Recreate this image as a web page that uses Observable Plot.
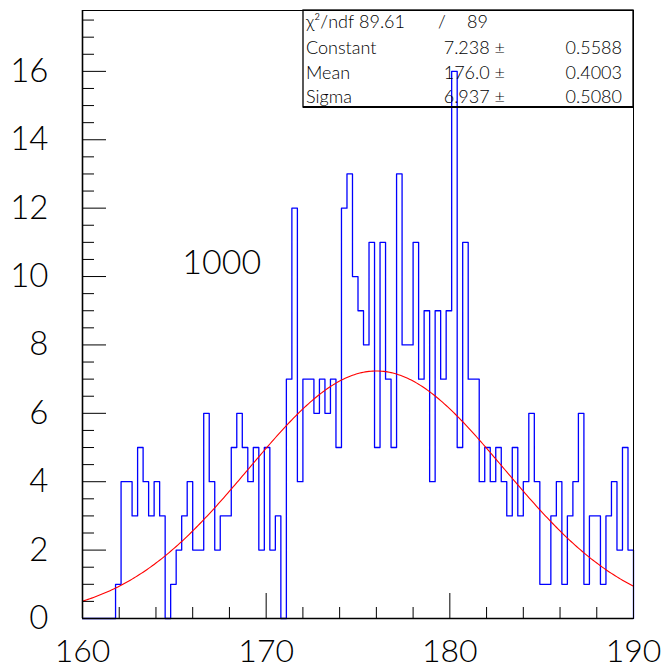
<!DOCTYPE html>
<html>
<head>
<meta charset="utf-8">
<script src="https://cdn.jsdelivr.net/npm/d3@7"></script>
<script src="https://cdn.jsdelivr.net/npm/@observablehq/plot@0.6"></script>
<style>
  html, body { margin: 0; padding: 0; background: #fff; }
  #chart { width: 667px; height: 668px; }
</style>
</head>
<body>
<div id="chart"></div>
<script>
// Histogram: 100 bins of width 0.3 from 160 to 190
const binLow = 160;
const binWidth = 0.3;
const counts = [
  0, 0, 0, 0, 0, 0, 1, 4, 4, 3,
  5, 4, 3, 4, 3, 0, 1, 2, 3, 4,
  2, 2, 6, 4, 2, 3, 3, 5, 6, 5,
  4, 5, 2, 5, 2, 3, 0, 7, 12, 4,
  7, 7, 6, 7, 6, 7, 5, 12, 13, 10,
  9, 8, 11, 5, 11, 7, 5, 13, 8, 8,
  11, 7, 9, 4, 9, 7, 9, 16, 5, 11,
  7, 7, 4, 5, 4, 5, 4, 3, 5, 3,
  4, 6, 4, 1, 1, 3, 4, 1, 3, 4,
  6, 1, 3, 3, 1, 3, 4, 2, 5, 2
];

// Gaussian fit results
const fitConstant = 7.238;
const fitMean = 176.0;
const fitSigma = 6.937;
const chi2 = "89.61";
const ndf = "89";
const statRows = [
  {name: "Constant", value: "7.238", error: "0.5588"},
  {name: "Mean", value: "176.0", error: "0.4003"},
  {name: "Sigma", value: "6.937", error: "0.5080"}
];
const entriesLabel = "1000";

// Axis ticks
const xLabels = [160, 170, 180, 190];
const xMajor = [170, 180];
const xMinor = [162, 164, 166, 168, 172, 174, 176, 178, 182, 184, 186, 188];
const yLabels = [0, 2, 4, 6, 8, 10, 12, 14, 16];
const yMajor = [2, 4, 6, 8, 10, 12, 14, 16];
const yMinor = d3.range(0.5, 17.6, 0.5).filter(v => v % 2 !== 0);

// Outline of the histogram as a step path
const histPts = counts.map((c, i) => ({x: binLow + i * binWidth, y: c}));
histPts.push({x: binLow + counts.length * binWidth, y: counts[counts.length - 1]});
histPts.push({x: binLow + counts.length * binWidth, y: 0});

// Fitted Gaussian evaluated across the axis range
const gauss = x => fitConstant * Math.exp(-0.5 * ((x - fitMean) / fitSigma) ** 2);
const fitPts = d3.range(0, 301).map(i => {
  const x = 160 + i * 0.1;
  return {x, y: gauss(x)};
});

const W = 667, H = 668;
const mL = 82, mR = 34, mT = 10, mB = 50;
const plotW = W - mL - mR, plotH = H - mT - mB;
const font = "Lato, 'Open Sans', 'DejaVu Sans', sans-serif";

const chart = Plot.plot({
  width: W,
  height: H,
  marginLeft: mL,
  marginRight: mR,
  marginTop: mT,
  marginBottom: mB,
  style: {fontFamily: font, background: "#fff", color: "#000"},
  x: {domain: [160, 190], axis: null},
  y: {domain: [0, 17.78]},
  marks: [
    Plot.line(histPts, {x: "x", y: "y", curve: "step-after", stroke: "#0000ff", strokeWidth: 1.3}),
    Plot.line(fitPts, {x: "x", y: "y", stroke: "#ff0000", strokeWidth: 1.1}),
    Plot.tickY(yMinor, {y: d => d, insetRight: plotW - 12, stroke: "#000"}),
    Plot.tickY(yMajor, {y: d => d, insetRight: plotW - 24, stroke: "#000"}),
    Plot.tickX(xMinor, {x: d => d, insetTop: plotH - 11, stroke: "#000"}),
    Plot.tickX(xMajor, {x: d => d, insetTop: plotH - 25, stroke: "#000"}),
    Plot.axisY({ticks: yLabels, tickSize: 0, tickPadding: 34, fontSize: 33, fontWeight: 300, label: null, tickFormat: d => d}),
    Plot.text(xLabels, {x: d => d, frameAnchor: "bottom", dy: 43, lineAnchor: "bottom", text: d => String(d), fontSize: 32, fontWeight: 300, fill: "#000"}),
    Plot.frame({stroke: "#000", strokeWidth: 1}),
    Plot.ruleX([160], {stroke: "#000", strokeWidth: 1.6}),
    Plot.ruleY([0], {stroke: "#000", strokeWidth: 1.6}),
    Plot.text([entriesLabel], {x: 165.43, y: 10.4, text: d => d, textAnchor: "start", lineAnchor: "middle", fontSize: 34, fontWeight: 300, fill: "#000"})
  ]
});
document.getElementById("chart").appendChild(chart);

// Fit statistics box in the upper right corner
const svg = d3.select(chart);
const box = svg.append("g")
  .attr("font-family", font).attr("font-size", 18).attr("font-weight", 300)
  .attr("fill", "#000").attr("text-anchor", "start");
const bx = 303, by = mT, bw = W - mR - 303, bh = 97;
box.append("rect").attr("x", bx).attr("y", by).attr("width", bw).attr("height", bh)
  .attr("fill", "none").attr("stroke", "#000").attr("stroke-width", 1.3);
box.append("line").attr("x1", bx).attr("x2", bx + bw).attr("y1", by + bh).attr("y2", by + bh)
  .attr("stroke", "#000").attr("stroke-width", 2.2);
const row1 = box.append("text").attr("y", 28);
row1.append("tspan").attr("x", 306).text("\u03C7\u00B2/ndf");
row1.append("tspan").attr("x", 359).text(chi2);
row1.append("tspan").attr("x", 438).text("/");
row1.append("tspan").attr("x", 467).text(ndf);
const baselines = [54, 79, 103];
statRows.forEach((r, i) => {
  box.append("text").attr("x", 306).attr("y", baselines[i]).attr("text-anchor", "start").text(r.name);
  box.append("text").attr("x", 505).attr("y", baselines[i]).attr("text-anchor", "end").text(r.value + " \u00B1");
  box.append("text").attr("x", 622).attr("y", baselines[i]).attr("text-anchor", "end").text(r.error);
});
</script>
</body>
</html>
